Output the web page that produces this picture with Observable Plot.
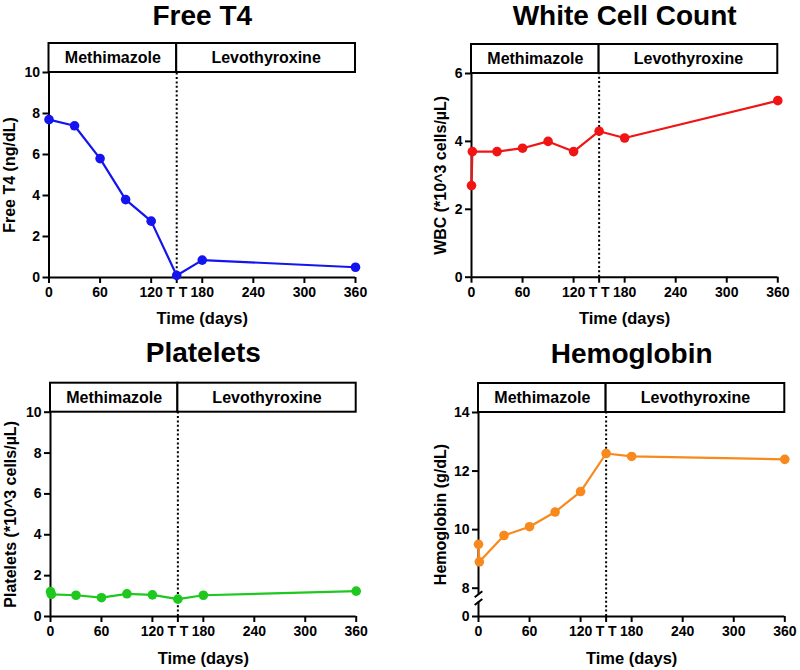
<!DOCTYPE html>
<html><head><meta charset="utf-8">
<script src="https://cdn.jsdelivr.net/npm/d3@7"></script>
<script src="https://cdn.jsdelivr.net/npm/@observablehq/plot@0.6"></script>
<style>
body{margin:0;background:#fff;}
#grid{display:grid;grid-template-columns:400px 400px;grid-template-rows:335px 335px;width:800px;height:670px;}
#grid svg{display:block;overflow:visible;}
</style></head><body><div id="grid"></div>
<script>
// ---- data ----
const t4Days = [0, 30, 60, 90, 120, 150, 180, 360];
const t4Values = [7.7, 7.4, 5.8, 3.8, 2.75, 0.1, 0.85, 0.5];
const wbcDays = [0, 1, 30, 60, 90, 120, 150, 180, 360];
const wbcValues = [2.7, 3.7, 3.7, 3.8, 4.0, 3.7, 4.3, 4.1, 5.2];
const pltDays = [0, 1, 30, 60, 90, 120, 150, 180, 360];
const pltValues = [1.22, 1.08, 1.04, 0.92, 1.11, 1.06, 0.85, 1.04, 1.24];
const hbDays = [0, 1, 30, 60, 90, 120, 150, 180, 360];
const hbValues = [9.5, 8.9, 9.8, 10.1, 10.6, 11.3, 12.6, 12.5, 12.4];

const xTicks = [0, 60, 120, 150, 180, 240, 300, 360];
const xTickLabels = ["0", "60", "120", "T T", "180", "240", "300", "360"];
const phaseNames = ["Methimazole", "Levothyroxine"];
const phaseStart = [0, 150];
const phaseEnd = [150, 360];
const switchDay = 150;
const hbBreak = [4.1, 6.3];

const FONT = "'Liberation Sans', Arial, Helvetica, sans-serif";
const W = 400, H = 335, BAR = 29;

function panel(o) {
  const data = o.days.map((d, i) => ({day: d, value: o.values[i]}));
  const yTop = o.yTicks[o.yTicks.length - 1];
  const frameH = H - o.mTop - o.mBottom;
  let upp;
  if (o.yDomain.length > 2) {
    const n = o.yDomain.length;
    upp = (o.yDomain[n - 1] - o.yDomain[n - 2]) / (o.yRange[n - 2] - o.yRange[n - 1]);
  } else {
    upp = (o.yDomain[1] - o.yDomain[0]) / frameH;
  }
  const barTop = yTop + BAR * upp;
  const phases = phaseNames.map((p, i) => ({name: p, x1: phaseStart[i], x2: phaseEnd[i], mid: (phaseStart[i] + phaseEnd[i]) / 2}));
  const barMid = (yTop + barTop) / 2;

  const marks = [];
  if (o.breakAt) {
    marks.push(Plot.ruleX([{x: 0, y1: 0, y2: o.breakAt[0]}, {x: 0, y1: o.breakAt[1], y2: barTop}], {x: "x", y1: "y1", y2: "y2", stroke: "black", strokeWidth: 2}));
    marks.push(Plot.link(o.breakAt.map(b => ({x1: -4.5, x2: 4.5, y1: b - 0.85, y2: b + 0.85})), {x1: "x1", x2: "x2", y1: "y1", y2: "y2", stroke: "black", strokeWidth: 2}));
  } else {
    marks.push(Plot.ruleX([{x: 0, y1: 0, y2: barTop}], {x: "x", y1: "y1", y2: "y2", stroke: "black", strokeWidth: 2}));
  }
  marks.push(Plot.ruleY([{y: 0, x1: 0, x2: 360}], {y: "y", x1: "x1", x2: "x2", stroke: "black", strokeWidth: 2}));
  marks.push(Plot.axisX({ticks: xTicks, tickFormat: d => xTickLabels[xTicks.indexOf(d)], tickSize: 6, tickPadding: 4, strokeWidth: 2, fontSize: 14, fontWeight: "bold", label: null}));
  marks.push(Plot.axisY({ticks: o.yTicks, tickFormat: d => String(d), tickSize: 6, tickPadding: 3, strokeWidth: 2, fontSize: 14, fontWeight: "bold", label: null}));
  marks.push(Plot.ruleX([{x: switchDay, y1: 0, y2: yTop}], {x: "x", y1: "y1", y2: "y2", stroke: "black", strokeWidth: 2, strokeDasharray: "2,2.4"}));
  marks.push(Plot.rect(phases, {x1: "x1", x2: "x2", y1: yTop, y2: barTop, fill: "white", stroke: "black", strokeWidth: 2}));
  marks.push(Plot.text(phases, {x: "mid", y: () => barMid, text: "name", fontSize: 16, fontWeight: "bold", fill: "black"}));
  marks.push(Plot.line(data, {x: "day", y: "value", stroke: o.color, strokeWidth: 2.2}));
  marks.push(Plot.dot(data, {x: "day", y: "value", fill: o.color, r: 4.8}));
  marks.push(Plot.text([o.title], {text: d => d, frameAnchor: "top", lineAnchor: "middle", textAnchor: "middle", dy: o.titleDy, fontSize: 28, fontWeight: "bold", fill: "black"}));
  marks.push(Plot.text([o.ylabel], {text: d => d, frameAnchor: "left", textAnchor: "middle", lineAnchor: "middle", dx: o.labelDx, rotate: -90, fontSize: 16, fontWeight: "bold", fill: "black"}));
  marks.push(Plot.text(["Time (days)"], {text: d => d, frameAnchor: "bottom", lineAnchor: "middle", textAnchor: "middle", dy: o.xlabelDy, fontSize: 16.5, fontWeight: "bold", fill: "black"}));

  const yScale = o.yDomain.length > 2
    ? {type: "linear", domain: o.yDomain, range: o.yRange}
    : {type: "linear", domain: o.yDomain};

  return Plot.plot({
    width: W, height: H,
    marginLeft: o.mLeft, marginRight: o.mRight, marginTop: o.mTop, marginBottom: o.mBottom,
    style: {fontFamily: FONT, fontSize: "14px", color: "black", background: "white", overflow: "visible"},
    x: {domain: [0, 360]},
    y: yScale,
    marks
  });
}

const grid = document.getElementById("grid");
grid.append(panel({
  title: "Free T4", ylabel: "Free T4 (ng/dL)", days: t4Days, values: t4Values, color: "#1414f0",
  yTicks: [0, 2, 4, 6, 8, 10], yDomain: [0, 10],
  mLeft: 48.5, mRight: 45, mTop: 72, mBottom: 58, labelDx: -39.5, titleDy: -56, xlabelDy: 41
}));
grid.append(panel({
  title: "White Cell Count", ylabel: "WBC (*10^3 cells/\u00b5L)", days: wbcDays, values: wbcValues, color: "#f01414",
  yTicks: [0, 2, 4, 6], yDomain: [0, 6],
  mLeft: 71, mRight: 22.7, mTop: 73, mBottom: 58.3, labelDx: -31, titleDy: -57, xlabelDy: 41.6
}));
grid.append(panel({
  title: "Platelets", ylabel: "Platelets (*10^3 cells/\u00b5L)", days: pltDays, values: pltValues, color: "#1ec81e",
  yTicks: [0, 2, 4, 6, 8, 10], yDomain: [0, 10],
  mLeft: 50, mRight: 44.3, mTop: 76.7, mBottom: 54, labelDx: -40, titleDy: -58.7, xlabelDy: 42.3
}));
grid.append(panel({
  title: "Hemoglobin", ylabel: "Hemoglobin (g/dL)", days: hbDays, values: hbValues, color: "#f8891c",
  yTicks: [0, 8, 10, 12, 14], yDomain: [0, 8, 14], yRange: [281, 252.7, 77],
  mLeft: 78, mRight: 15.7, mTop: 77, mBottom: 54, labelDx: -38, titleDy: -58, xlabelDy: 42.3,
  breakAt: hbBreak
}));
</script>
</body></html>
